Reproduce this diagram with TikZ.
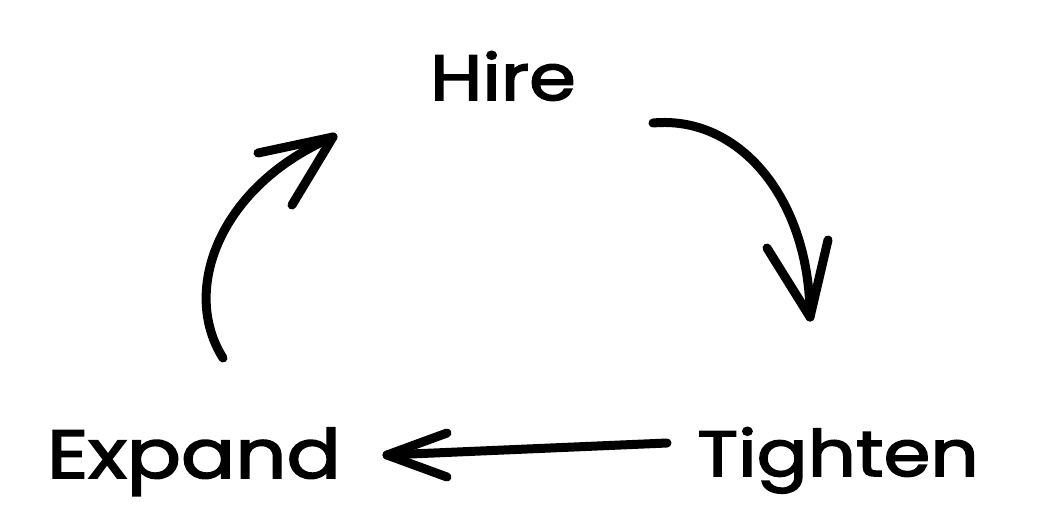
\documentclass[tikz,border=0pt]{standalone}
\usepackage{fontspec}
\setmainfont{Poppins}[FakeBold=2.5, FakeStretch=1.18]
\usetikzlibrary{positioning}

\begin{document}
\begin{tikzpicture}[
x=1pt, y=-1pt,
word/.style={font=\fontsize{64}{64}\selectfont, anchor=base, inner sep=0pt},
pen/.style={line width=9pt, line cap=round, line join=round}
]
\useasboundingbox (0,0) rectangle (1040,528);
\node[word] (hire) at (503,100) {Hire};
\node[word] (tighten) at (838,476) {Tighten};
\node[word, font=\fontsize{68}{68}\selectfont] (expand) at (194,478) {Expand};
% arrow ends
\coordinate (h1) at (653,123);
\coordinate (t1) at (810,317);
\coordinate (t2) at (667,443);
\coordinate (e1) at (387,455);
\coordinate (e2) at (223,358);
\coordinate (h2) at (333,137);
% Hire to Tighten
\draw[pen] (h1) .. controls (740,115) and (810,200) .. (t1);
\draw[pen] (767,248) -- (t1) -- (828,240);
% Tighten to Expand
\draw[pen] (t2) -- (e1);
\draw[pen] (447,433) -- (e1) -- (447,477);
% Expand to Hire
\draw[pen] (e2) .. controls (180,290) and (220,185) .. (h2);
\draw[pen] (258,153) -- (h2) -- (292,205);
\end{tikzpicture}
\end{document}
